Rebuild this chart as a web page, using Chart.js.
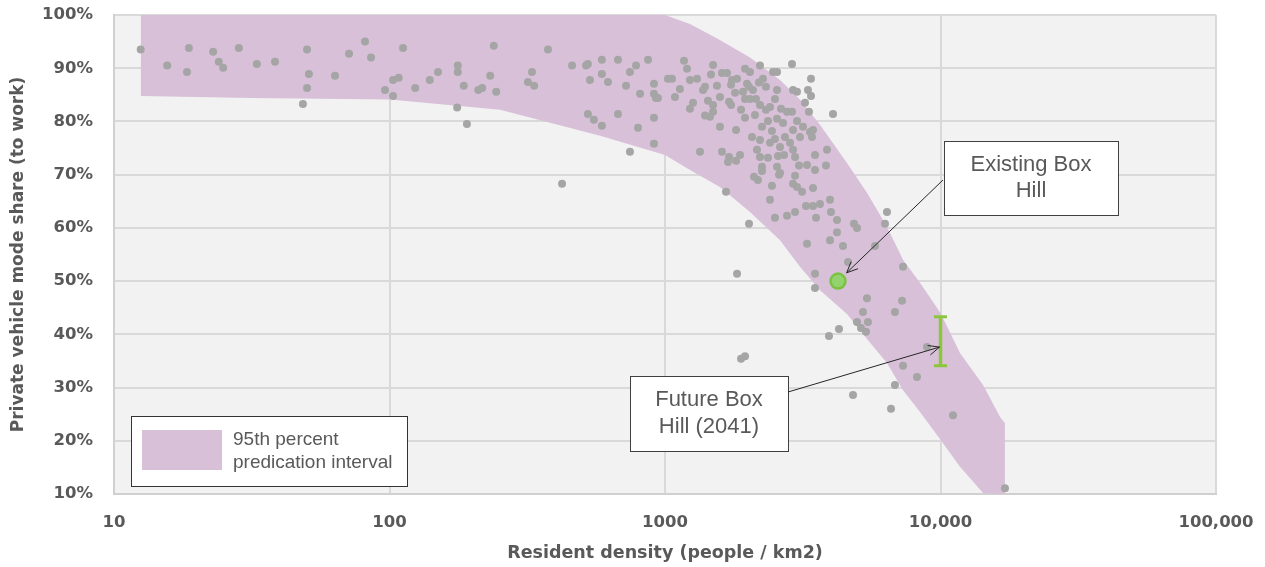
<!DOCTYPE html>
<html><head><meta charset="utf-8">
<script src="https://cdn.jsdelivr.net/npm/chart.js@4/dist/chart.umd.min.js"></script>
<style>html,body{margin:0;padding:0;background:#fff;}</style>
</head><body>
<canvas id="c" width="1265" height="567"></canvas>
<script>
// ---- axis ticks ----
const xTickValues = [10, 100, 1000, 10000, 100000];
const xTickLabels = ['10', '100', '1000', '10,000', '100,000'];
const yTickMin = 10, yTickMax = 100, yTickStep = 10;

// ---- 95th percentile prediction interval (band) ----
const bandDensity = [12.5, 31.2, 100, 252, 581, 1000, 1232, 1583, 2034, 2615, 3090, 3652, 4577, 5410, 6394, 7310, 8426, 10000, 11770, 14270, 16440, 17140];
const bandUpper   = [100, 100, 100, 100, 100, 100, 98.3, 95.3, 92.0, 87.8, 84.1, 79.4, 72.2, 66.6, 60.2, 54.0, 49.7, 44.0, 36.5, 30.5, 24.5, 23.3];
const bandLower   = [84.8, 84.4, 84.1, 82.2, 77.3, 73.7, 70.9, 67.7, 63.0, 57.7, 52.7, 48.3, 43.8, 39.1, 34.6, 29.5, 25.4, 20.2, 15.1, 10.2, 10, 10];

// ---- observed areas: resident density (people/km2) and private vehicle share (%) ----
const scatterDensity = [
  12.5,15.6,18.4,18.7,22.9,24.0,24.9,28.4,33.0,38.4,48.5,50.2,51.0,50.2,63.4,71.3,81.5,85.7,96.3,103,103,108,112,124,
  140,150,176,177,177,186,191,210,217,232,239,244,318,329,335,376,423,460,517,525,525,534,552,590,590,590,621,675,675,722,746,746,785,798,812,868,912,912,912,912,927,943,
  1172,1202,1494,1610,1679,1469,1025,1060,1232,1307,1397,1374,1133,1087,1264,1232,1432,1583,1544,1737,
  1751,1826,1952,2034,2212,2466,2550,1985,1919,1796,2018,2086,2193,2268,2325,1952,2034,2139,2212,1888,
  1737,1708,1494,1494,1397,1456,1952,2121,2325,2405,2550,2507,2365,2550,1583,1811,2069,2212,2249,2445,
  2507,2405,1340,1610,1708,1872,2157,2212,2365,2571,
  1693,1811,2249,2249,2104,2175,2550,2594,2445,1665,2405,2507,2018,1826,1888,1952,
  2891,3388,2915,3014,3303,3388,3222,3331,4072,2637,2773,2891,2682,3014,3169,3359,3445,2915,2726,3090,3416,2615,2843,2915,2704,2965,3503,3873,
  3064,3277,3503,3841,2965,2915,3014,3144,3445,2615,3971,3652,3445,3249,2965,2773,3533,4004,4210,4853,
  4976,4210,6394,6288,3971,3277,4427,5785,3503,3503,4616,7311,5409,7250,5231,6833,4976,5454,5145,5364,
  4281,3938,8933,7311,8215,6833,4813,6612,11100,17140
];
const scatterShare = [
  93.5,90.5,89.3,93.8,93.1,91.2,90.1,93.8,90.8,91.2,83.3,93.5,88.9,86.3,88.6,92.7,95.0,92.0,85.9,87.8,84.8,88.2,93.8,86.3,
  87.8,89.3,82.6,90.5,89.3,86.7,79.5,85.9,86.3,88.6,94.2,85.6,87.4,89.3,86.7,93.5,68.3,90.5,90.5,90.8,81.4,87.8,80.3,91.6,88.9,79.2,87.4,91.6,81.4,86.7,89.3,74.3,90.5,78.8,85.2,91.6,87.1,85.2,80.7,75.8,84.4,84.4,
  91.4,89.9,90.6,89.1,89.1,88.8,88.0,88.0,87.8,88.0,86.5,85.9,86.1,84.6,83.5,82.4,83.9,84.6,86.7,86.9,
  87.8,88.0,89.9,89.3,90.5,89.3,89.3,87.1,85.6,85.4,86.5,85.9,87.3,88.0,86.5,84.2,84.2,84.2,83.1,82.2,
  83.1,83.7,83.1,81.8,81.1,80.9,80.7,81.2,82.2,82.7,85.9,84.2,80.1,80.5,79.0,78.4,77.1,76.5,79.0,78.2,
  76.7,76.0,74.3,74.3,73.3,73.7,74.7,73.3,73.2,73.5,
  72.4,72.6,71.5,70.7,69.6,69.0,71.5,70.0,67.9,66.8,65.3,61.9,60.8,51.4,35.4,35.9,
  90.8,88.0,85.9,85.6,85.9,84.8,83.5,81.8,81.4,82.4,81.8,81.8,79.7,80.1,79.0,78.0,78.4,78.4,77.1,77.1,77.1,75.2,76.0,74.7,73.7,73.3,73.7,74.7,
  71.7,71.8,70.9,71.7,69.8,68.3,67.7,66.8,67.5,70.3,65.3,64.5,64.1,64.1,63.0,62.3,61.9,63.0,61.5,60.8,
  60.0,59.2,63.0,60.8,57.7,57.0,56.6,56.6,51.4,48.7,53.6,52.7,46.8,46.3,44.2,44.2,42.3,42.3,41.2,40.5,
  41.0,39.7,37.6,34.1,32.0,30.5,28.6,26.0,24.8,11.1
];

// ---- Box Hill ----
const existingDensity = [4246];
const existingShare = [50.0];
const futureDensity = [10000, 10000];
const futureShareRange = [34.1, 43.3];
const futureArrowShare = 37.6;

const legendLines = ['95th percent', 'predication interval'];
const existingLabel = ['Existing Box', 'Hill'];
const futureLabel = ['Future Box', 'Hill (2041)'];

// ---- styles ----
const BAND = '#d8c1d8';
const DOT = '#a5a5a5';
const GREEN = '#8cc63f';
const TXT = '#595959';
const BOLD_FONT = '"DejaVu Sans", Verdana, sans-serif';
const PLAIN_FONT = '"Liberation Sans", Arial, sans-serif';

const plotBg = {
  id: 'plotBg',
  beforeDraw(chart) {
    const {ctx, chartArea: a} = chart;
    ctx.save();
    ctx.fillStyle = '#f2f2f2';
    ctx.fillRect(a.left, a.top, a.right - a.left, a.bottom - a.top);
    ctx.restore();
  }
};

function drawArrow(ctx, x1, y1, x2, y2) {
  const ang = Math.atan2(y2 - y1, x2 - x1);
  const L = 12;
  ctx.beginPath();
  ctx.moveTo(x1, y1);
  ctx.lineTo(x2, y2);
  for (const s of [-1, 1]) {
    ctx.moveTo(x2, y2);
    ctx.lineTo(x2 - L * Math.cos(ang + s * 0.42), y2 - L * Math.sin(ang + s * 0.42));
  }
  ctx.stroke();
}

function drawBox(ctx, x, y, w, h, lines, lh) {
  ctx.fillStyle = '#ffffff';
  ctx.fillRect(x, y, w, h);
  ctx.strokeStyle = '#404040';
  ctx.lineWidth = 1;
  ctx.strokeRect(x + 0.5, y + 0.5, w, h);
  ctx.fillStyle = TXT;
  ctx.font = '22px ' + PLAIN_FONT;
  ctx.textAlign = 'center';
  ctx.textBaseline = 'middle';
  const cy = y + h / 2 - (lines.length - 1) * lh / 2;
  lines.forEach((t, i) => ctx.fillText(t, x + w / 2, cy + i * lh));
}

const decor = {
  id: 'decor',
  afterDatasetsDraw(chart) {
    const {ctx, scales: {x, y}} = chart;
    ctx.save();
    // legend
    ctx.fillStyle = '#ffffff';
    ctx.fillRect(131, 416, 276, 70);
    ctx.strokeStyle = '#333333';
    ctx.lineWidth = 1;
    ctx.strokeRect(131.5, 416.5, 276, 70);
    ctx.fillStyle = BAND;
    ctx.fillRect(142, 430, 80, 40);
    ctx.fillStyle = TXT;
    ctx.font = '19px ' + PLAIN_FONT;
    ctx.textAlign = 'left';
    ctx.textBaseline = 'middle';
    ctx.fillText(legendLines[0], 233, 440);
    ctx.fillText(legendLines[1], 233, 463);

    // callouts
    drawBox(ctx, 944, 141, 174, 74, existingLabel, 26);
    drawBox(ctx, 630, 376, 158, 75, futureLabel, 27);

    // arrows
    ctx.strokeStyle = '#262626';
    ctx.lineWidth = 1;
    const ex = x.getPixelForValue(existingDensity[0]), ey = y.getPixelForValue(existingShare[0]);
    const sx = 943, sy = 180;
    const d = Math.hypot(ex - sx, ey - sy);
    drawArrow(ctx, sx, sy, ex + (sx - ex) / d * 12, ey + (sy - ey) / d * 12);
    const fx = x.getPixelForValue(futureDensity[0]), fy = y.getPixelForValue(futureArrowShare);
    drawArrow(ctx, 788, 392, fx - 1, fy);
    ctx.restore();
  }
};

new Chart(document.getElementById('c'), {
  type: 'scatter',
  data: {
    datasets: [
      { type: 'line', label: 'upper', data: bandDensity.map((v, i) => ({x: v, y: bandUpper[i]})),
        pointRadius: 0, borderWidth: 0, borderColor: 'rgba(0,0,0,0)', fill: false, tension: 0, order: 10 },
      { type: 'line', label: '95th percent predication interval', data: bandDensity.map((v, i) => ({x: v, y: bandLower[i]})),
        pointRadius: 0, borderWidth: 0, borderColor: 'rgba(0,0,0,0)', backgroundColor: BAND, fill: '-1', tension: 0, order: 9 },
      { label: 'Areas', data: scatterDensity.map((v, i) => ({x: v, y: scatterShare[i]})),
        pointRadius: 4, backgroundColor: DOT, borderWidth: 0, order: 5 },
      { type: 'line', label: 'Future Box Hill', data: futureDensity.map((v, i) => ({x: v, y: futureShareRange[i]})),
        borderColor: GREEN, borderWidth: 3.5, pointStyle: 'line', pointRadius: 6.5, pointBorderColor: GREEN,
        pointBorderWidth: 3, pointBackgroundColor: GREEN, fill: false, order: 2 },
      { label: 'Existing Box Hill', data: existingDensity.map((v, i) => ({x: v, y: existingShare[i]})),
        pointRadius: 7.5, backgroundColor: '#92d36e', borderColor: '#7cc242', borderWidth: 2.5, order: 1 }
    ]
  },
  options: {
    responsive: false,
    animation: false,
    events: [],
    layout: {autoPadding: false, padding: {left: 0, top: 15, right: 49, bottom: 0}},
    plugins: {legend: {display: false}, tooltip: {enabled: false}},
    scales: {
      x: {
        type: 'logarithmic', min: xTickValues[0], max: xTickValues[xTickValues.length - 1],
        afterBuildTicks(s) { s.ticks = xTickValues.map(v => ({value: v})); },
        afterFit(s) { s.height = 73; s.paddingLeft = 0; s.paddingRight = 0; s.paddingTop = 0; s.paddingBottom = 0; },
        ticks: {
          autoSkip: false, maxRotation: 0, padding: 19, color: TXT,
          font: {family: BOLD_FONT, size: 16.5, weight: 'bold'},
          callback(v) { const i = xTickValues.indexOf(v); return i >= 0 ? xTickLabels[i] : ''; }
        },
        grid: {color: '#d9d9d9', lineWidth: 2, drawTicks: false},
        border: {color: '#d0d0d0', width: 2},
        title: {display: true, text: 'Resident density (people / km2)', color: TXT,
          font: {family: BOLD_FONT, size: 17.5, weight: 'bold', lineHeight: 1}, padding: {bottom: 5, top: 0}}
      },
      y: {
        min: yTickMin, max: yTickMax,
        afterFit(s) { s.width = 114; s.paddingLeft = 0; s.paddingRight = 0; s.paddingTop = 0; s.paddingBottom = 0; },
        ticks: {
          stepSize: yTickStep, padding: 21, color: TXT,
          font: {family: BOLD_FONT, size: 16.5, weight: 'bold'},
          callback(v) { return v + '%'; }
        },
        grid: {color: '#d9d9d9', lineWidth: 2, drawTicks: false},
        border: {color: '#d0d0d0', width: 2},
        title: {display: true, text: 'Private vehicle mode share (to work)', color: TXT,
          font: {family: BOLD_FONT, size: 17, weight: 'bold', lineHeight: 1}, padding: {top: 10, bottom: 0}}
      }
    }
  },
  plugins: [plotBg, decor]
});
</script>
</body></html>
